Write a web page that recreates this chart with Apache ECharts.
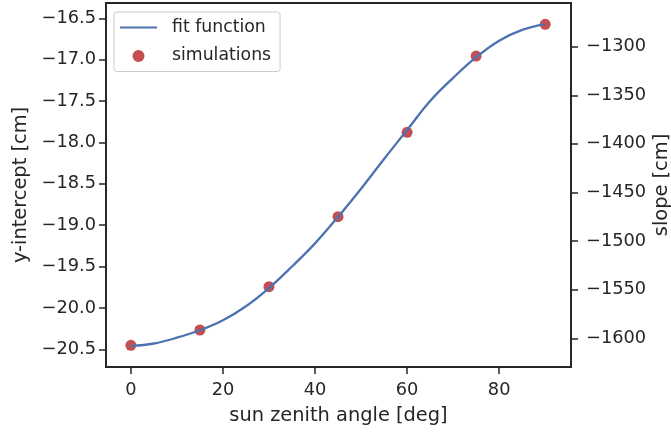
<!DOCTYPE html>
<html>
<head>
<meta charset="utf-8">
<script src="https://cdn.jsdelivr.net/npm/echarts@6/dist/echarts.min.js"></script>
<style>
html,body{margin:0;padding:0;background:#fff;}
#chart{width:671px;height:433px;}
</style>
</head>
<body>
<div id="chart"></div>
<script>
// simulation points
const simAngles = [0, 15, 30, 45, 60, 75, 90];
const simIntercepts = [-20.452, -20.267, -19.743, -18.898, -17.878, -16.956, -16.572];
// fit function samples
const fitAngles = [0, 5, 10, 15, 20, 25, 30, 35, 40, 45, 50, 55, 60, 65, 70, 75, 80, 85, 90];
const fitValues = [-20.46, -20.43, -20.36, -20.27, -20.15, -19.98, -19.76, -19.50, -19.22, -18.90, -18.56, -18.20, -17.85, -17.50, -17.22, -16.97, -16.77, -16.64, -16.57];
// tick labels
const xTicks = [0, 20, 40, 60, 80];
const leftTicks = [-20.5, -20.0, -19.5, -19.0, -18.5, -18.0, -17.5, -17.0, -16.5];
const rightTicks = [-1600, -1550, -1500, -1450, -1400, -1350, -1300];

const ink = '#262626';
const font = 'DejaVu Sans';
const minus = (s) => s.replace('-', '\u2212');

const chart = echarts.init(document.getElementById('chart'), null, {renderer: 'canvas'});
const axisLineStyle = {show: true, onZero: false, lineStyle: {color: ink, width: 1.8}};
const tickStyle = {show: true, length: 7, inside: false, lineStyle: {color: ink, width: 1.5}};
const tickFont = 17.8;
const nameFont = 19.4;

chart.setOption({
  animation: false,
  backgroundColor: '#fff',
  grid: {left: 106, right: 100, top: 3, bottom: 66, containLabel: false, outerBoundsMode: 'none',
    show: true, borderColor: ink, borderWidth: 1.8, backgroundColor: 'transparent'},
  legend: {
    left: 114, top: 12,
    orient: 'vertical',
    padding: [7, 9, 7, 6],
    itemGap: 11.5,
    itemWidth: 37, itemHeight: 12,
    backgroundColor: 'rgba(255,255,255,0.8)',
    borderColor: '#cccccc', borderWidth: 1, borderRadius: 3,
    textStyle: {fontFamily: font, fontSize: 17.3, color: ink, padding: [0, 0, 0, 10]},
    data: [
      {name: 'fit function', icon: 'path://M0,0 L37,0 L37,2.2 L0,2.2 Z'},
      {name: 'simulations', icon: 'circle'}
    ]
  },
  xAxis: {
    type: 'value', min: -5.4, max: 95.6,
    name: 'sun zenith angle [deg]', nameLocation: 'middle', nameGap: 39,
    nameTextStyle: {fontFamily: font, fontSize: nameFont, color: ink},
    axisLine: axisLineStyle,
    axisTick: Object.assign({customValues: xTicks}, tickStyle),
    axisLabel: {customValues: xTicks, fontFamily: font, fontSize: tickFont, color: ink, margin: 14,
      formatter: (v) => minus(String(v))},
    splitLine: {show: false}
  },
  yAxis: [
    {
      type: 'value', min: -20.714, max: -16.315, position: 'left',
      name: 'y-intercept [cm]', nameLocation: 'middle', nameGap: 76,
      nameTextStyle: {fontFamily: font, fontSize: nameFont, color: ink},
      axisLine: axisLineStyle,
      axisTick: Object.assign({customValues: leftTicks}, tickStyle),
      axisLabel: {customValues: leftTicks, fontFamily: font, fontSize: tickFont, color: ink, margin: 10,
        formatter: (v) => minus(v.toFixed(1))},
      splitLine: {show: false}
    },
    {
      type: 'value', min: -1629.5, max: -1255.1, position: 'right',
      name: 'slope [cm]', nameLocation: 'middle', nameGap: 81, nameMoveOverlap: false,
      nameTextStyle: {fontFamily: font, fontSize: nameFont, color: ink},
      axisLine: axisLineStyle,
      axisTick: Object.assign({customValues: rightTicks}, tickStyle),
      axisLabel: {customValues: rightTicks, fontFamily: font, fontSize: tickFont, color: ink, margin: 15,
        formatter: (v) => minus(String(Math.round(v)))},
      splitLine: {show: false}
    }
  ],
  series: [
    {
      name: 'fit function', type: 'line', yAxisIndex: 0, z: 3,
      data: fitAngles.map((a, i) => [a, fitValues[i]]),
      smooth: 0.4, symbol: 'none', showSymbol: false,
      lineStyle: {color: '#4c72b0', width: 2.3},
      itemStyle: {color: '#4c72b0'}
    },
    {
      name: 'simulations', type: 'scatter', yAxisIndex: 0, z: 2,
      data: simAngles.map((a, i) => [a, simIntercepts[i]]),
      symbolSize: 11,
      itemStyle: {color: '#c44e52', opacity: 1}
    }
  ]
});
</script>
</body>
</html>
